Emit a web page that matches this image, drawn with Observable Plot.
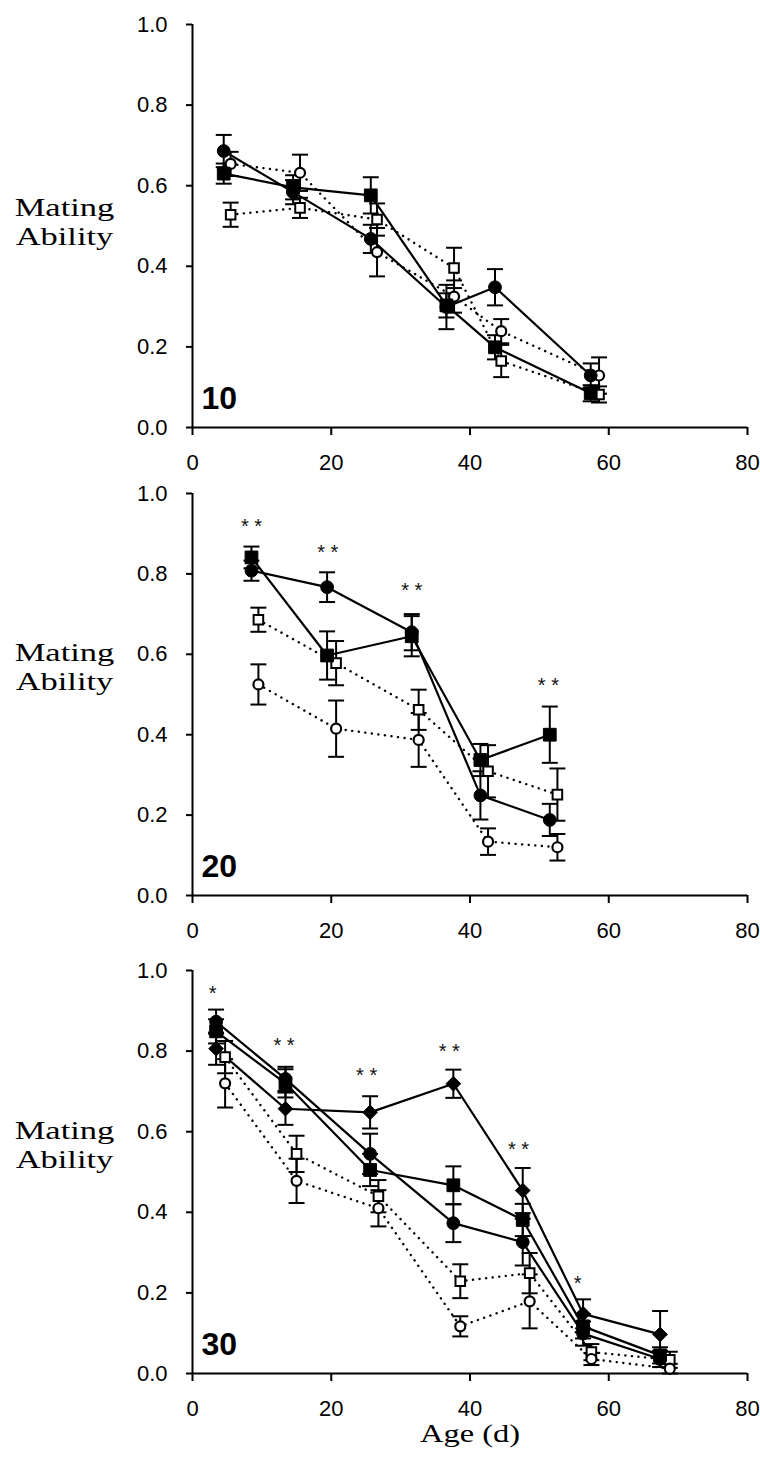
<!DOCTYPE html>
<html><head><meta charset="utf-8">
<script src="https://cdn.jsdelivr.net/npm/d3@7"></script>
<script src="https://cdn.jsdelivr.net/npm/@observablehq/plot@0.6"></script>
<style>
body{margin:0;background:#fff}
#chart svg{display:block;overflow:visible}
</style>
</head><body><div id="chart"></div>
<script>
// ---------- DATA ----------
const xTicks = [0, 20, 40, 60, 80];
const yTicks = [0, 0.2, 0.4, 0.6, 0.8, 1.0];
const panelLabels = ["10", "20", "30"];
const yAxisTitle = "Mating\nAbility";
const xAxisTitle = "Age (d)";

// Panel 10
const ageFilled10 = [4.5, 14.5, 25.7, 36.6, 43.6, 57.4];
const ageOpen10   = [5.5, 15.5, 26.6, 37.7, 44.5, 58.6];
const sqFilled10  = [0.63, 0.596, 0.576, 0.303, 0.199, 0.085];
const sqFilledErr10 = [0.025, 0.03, 0.045, 0.03, 0.03, 0.02];
const ciFilled10  = [0.686, 0.584, 0.468, 0.299, 0.348, 0.129];
const ciFilledErr10 = [0.04, 0.03, 0.035, 0.055, 0.045, 0.03];
const sqOpen10    = [0.528, 0.545, 0.516, 0.396, 0.165, 0.082];
const sqOpenErr10 = [0.03, 0.025, 0.04, 0.05, 0.04, 0.02];
const ciOpen10    = [0.654, 0.632, 0.435, 0.325, 0.239, 0.129];
const ciOpenErr10 = [0.03, 0.045, 0.06, 0.04, 0.03, 0.045];

// Panel 20
const ageFilled20 = [8.5, 19.4, 31.6, 41.5, 51.5];
const ageOpen20   = [9.5, 20.7, 32.6, 42.6, 52.6];
const sqFilled20  = [0.841, 0.597, 0.645, 0.337, 0.40];
const sqFilledErr20 = [0.027, 0.06, 0.05, 0.04, 0.07];
const ciFilled20  = [0.808, 0.767, 0.655, 0.249, 0.188];
const ciFilledErr20 = [0.025, 0.037, 0.045, 0.06, 0.04];
const sqOpen20    = [0.686, 0.578, 0.462, 0.309, 0.251];
const sqOpenErr20 = [0.03, 0.055, 0.05, 0.065, 0.065];
const ciOpen20    = [0.525, 0.415, 0.387, 0.134, 0.12];
const ciOpenErr20 = [0.05, 0.07, 0.067, 0.033, 0.033];
const starX20 = [8.5, 19.5, 31.6, 51.3];
const starY20 = [0.93, 0.865, 0.77, 0.535];
const starT20 = ["**", "**", "**", "**"];

// Panel 30
const ageFilled30 = [3.4, 13.4, 25.6, 37.6, 47.6, 56.3, 67.4];
const ageOpen30   = [4.7, 15.0, 26.8, 38.6, 48.6, 57.5, 68.8];
const ciFilled30  = [0.873, 0.731, 0.545, 0.373, 0.326, 0.099, 0.036];
const ciFilledErr30 = [0.03, 0.03, 0.05, 0.047, 0.058, 0.03, 0.02];
const sqFilled30  = [0.849, 0.72, 0.505, 0.467, 0.381, 0.117, 0.045];
const sqFilledErr30 = [0.03, 0.035, 0.04, 0.047, 0.04, 0.03, 0.02];
const dmFilled30  = [0.806, 0.657, 0.648, 0.719, 0.454, 0.148, 0.097];
const dmFilledErr30 = [0.04, 0.04, 0.04, 0.035, 0.056, 0.036, 0.058];
const sqOpen30    = [0.785, 0.545, 0.44, 0.229, 0.249, 0.053, 0.034];
const sqOpenErr30 = [0.04, 0.045, 0.04, 0.042, 0.05, 0.02, 0.02];
const ciOpen30    = [0.72, 0.478, 0.41, 0.117, 0.179, 0.036, 0.012];
const ciOpenErr30 = [0.06, 0.055, 0.045, 0.025, 0.067, 0.015, 0.012];
const starX30 = [2.9, 13.2, 25.1, 37.0, 47.0, 55.5];
const starY30 = [0.955, 0.825, 0.752, 0.81, 0.567, 0.235];
const starT30 = ["*", "**", "**", "**", "**", "*"];

// ---------- DRAWING ----------
const CAP = 1.15; // half-width of error-bar caps (x units)
const rows = (ages, vals, errs) => ages.map((a, i) => ({x: a, y: vals[i], e: errs[i]}));
const starRows = (xs, ys, ts) => xs.map((x, i) => ({x, y: ys[i], t: ts[i].split("").join(" ")}));

const kinds = {
  sqO: {symbol: "square", fill: "white", strokeWidth: 2, r: 5.4, solid: false},
  ciO: {symbol: "circle", fill: "white", strokeWidth: 2.2, r: 5.0, solid: false},
  sqF: {symbol: "square", fill: "black", strokeWidth: 1, r: 7.2, solid: true},
  ciF: {symbol: "circle", fill: "black", strokeWidth: 1, r: 6.4, solid: true},
  dmF: {symbol: "diamond2", fill: "black", strokeWidth: 1, r: 6.6, solid: true}
};

const ML = 192; // left margin (frame left edge)

function stretchText(svg, startsWith, cx, sx) {
  const el = Array.from(svg.querySelectorAll("text")).find(t => t.textContent.startsWith(startsWith));
  if (!el) return;
  const w = document.createElementNS("http://www.w3.org/2000/svg", "g");
  w.setAttribute("transform", `translate(${cx},0) scale(${sx},1) translate(${-cx},0)`);
  el.parentNode.insertBefore(w, el);
  w.appendChild(el);
}

function panel(cfg) {
  const marks = [];
  marks.push(Plot.ruleX([0], {stroke: "black", strokeWidth: 2}));
  marks.push(Plot.ruleY([0], {stroke: "black", strokeWidth: 2}));
  marks.push(Plot.axisX({ticks: xTicks, tickSize: 8, tickPadding: 19, strokeWidth: 2, label: null, fill: "black"}));
  marks.push(Plot.axisY({ticks: yTicks, tickFormat: d3.format(".1f"), tickSize: 6, tickPadding: 19, strokeWidth: 2, label: null, fill: "black"}));
  for (const s of cfg.series) {
    const k = kinds[s.kind];
    marks.push(k.solid
      ? Plot.line(s.data, {x: "x", y: "y", stroke: "black", strokeWidth: 2.2})
      : Plot.line(s.data, {x: "x", y: "y", stroke: "black", strokeWidth: 2.4, strokeDasharray: "0.1,6.5", strokeLinecap: "round"}));
  }
  for (const s of cfg.series) {
    marks.push(Plot.ruleX(s.data, {x: "x", y1: d => d.y - d.e, y2: d => d.y + d.e, stroke: "black", strokeWidth: 2}));
    marks.push(Plot.link(s.data, {x1: d => d.x - CAP, x2: d => d.x + CAP, y1: d => d.y + d.e, y2: d => d.y + d.e, stroke: "black", strokeWidth: 2}));
    marks.push(Plot.link(s.data, {x1: d => d.x - CAP, x2: d => d.x + CAP, y1: d => d.y - d.e, y2: d => d.y - d.e, stroke: "black", strokeWidth: 2}));
  }
  for (const s of cfg.series) {
    const k = kinds[s.kind];
    marks.push(Plot.dot(s.data, {x: "x", y: "y", symbol: k.symbol, r: k.r, fill: k.fill, stroke: "black", strokeWidth: k.strokeWidth}));
  }
  if (cfg.stars) {
    marks.push(Plot.text(cfg.stars, {x: "x", y: "y", text: "t", fontSize: 20, fill: "#111", dy: 5,
      fontFamily: "Liberation Sans, Arial, sans-serif"}));
  }
  marks.push(Plot.text([cfg.label], {frameAnchor: "bottom-left", dx: 9, dy: -19, lineAnchor: "bottom", textAnchor: "start",
    fontSize: 32, fontWeight: "bold", fill: "black", fontFamily: "Liberation Sans, Arial, sans-serif"}));
  marks.push(Plot.text([yAxisTitle], {frameAnchor: "top-left", dx: -128, dy: cfg.ylabDy, lineAnchor: "top", textAnchor: "middle",
    fontSize: 25, lineHeight: 1.16, fill: "black", fontFamily: "Liberation Serif, Times New Roman, serif"}));
  if (cfg.xlabel) {
    marks.push(Plot.text([xAxisTitle], {frameAnchor: "bottom", dy: 60, lineAnchor: "middle", textAnchor: "middle",
      fontSize: 25, fill: "black", fontFamily: "Liberation Serif, Times New Roman, serif"}));
  }
  const svg = Plot.plot({
    width: 760, height: cfg.height,
    marginLeft: ML, marginRight: 13, marginTop: cfg.mt, marginBottom: cfg.mb,
    x: {domain: [0, 80]}, y: {domain: [0, 1]},
    style: {fontSize: "22px", fontFamily: "Liberation Sans, Arial, sans-serif", color: "black", background: "white", overflow: "visible"},
    marks
  });
  // the y title sits at the frame's left edge inside a group shifted by dx
  stretchText(svg, "Mating", ML, 1.38);
  stretchText(svg, "Age", (ML + 747) / 2, 1.3);
  return svg;
}

const chart = document.getElementById("chart");
chart.appendChild(panel({
  height: 474, mt: 24, mb: 47, label: panelLabels[0], ylabDy: 171,
  series: [
    {kind: "sqO", data: rows(ageOpen10, sqOpen10, sqOpenErr10)},
    {kind: "ciO", data: rows(ageOpen10, ciOpen10, ciOpenErr10)},
    {kind: "sqF", data: rows(ageFilled10, sqFilled10, sqFilledErr10)},
    {kind: "ciF", data: rows(ageFilled10, ciFilled10, ciFilledErr10)}
  ]
}));
chart.appendChild(panel({
  height: 471, mt: 19, mb: 50, label: panelLabels[1], ylabDy: 147,
  stars: starRows(starX20, starY20, starT20),
  series: [
    {kind: "sqO", data: rows(ageOpen20, sqOpen20, sqOpenErr20)},
    {kind: "ciO", data: rows(ageOpen20, ciOpen20, ciOpenErr20)},
    {kind: "sqF", data: rows(ageFilled20, sqFilled20, sqFilledErr20)},
    {kind: "ciF", data: rows(ageFilled20, ciFilled20, ciFilledErr20)}
  ]
}));
chart.appendChild(panel({
  height: 521, mt: 25, mb: 93, label: panelLabels[2], ylabDy: 148, xlabel: true,
  stars: starRows(starX30, starY30, starT30),
  series: [
    {kind: "sqO", data: rows(ageOpen30, sqOpen30, sqOpenErr30)},
    {kind: "ciO", data: rows(ageOpen30, ciOpen30, ciOpenErr30)},
    {kind: "sqF", data: rows(ageFilled30, sqFilled30, sqFilledErr30)},
    {kind: "ciF", data: rows(ageFilled30, ciFilled30, ciFilledErr30)},
    {kind: "dmF", data: rows(ageFilled30, dmFilled30, dmFilledErr30)}
  ]
}));
</script>
</body></html>
